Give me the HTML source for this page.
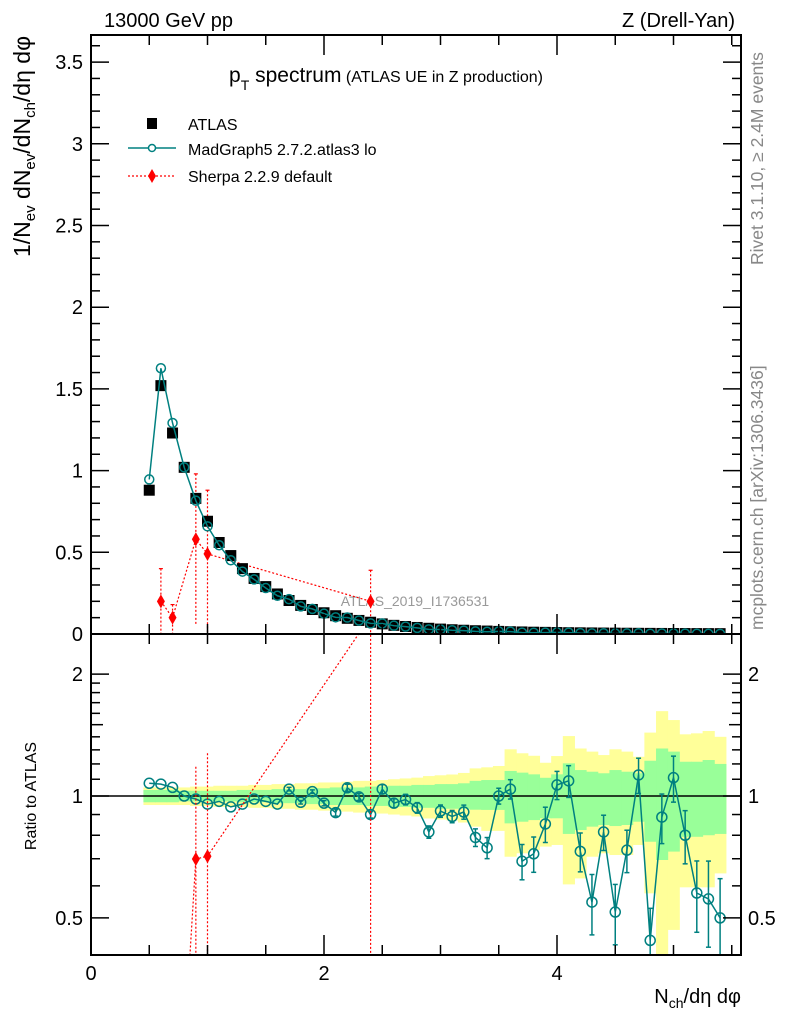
<!DOCTYPE html>
<html><head><meta charset="utf-8"><style>
html,body{margin:0;padding:0;background:#fff;width:786px;height:1024px;overflow:hidden;position:relative;}
svg{display:block;font-family:"Liberation Sans",sans-serif;}
</style></head><body>
<svg id="c" width="786" height="1024" viewBox="0 0 786 1024" xmlns="http://www.w3.org/2000/svg" style="position:absolute;left:0;top:0"></svg>
<script>
// ---- data ----
const xCenters = [0.5,0.6,0.7,0.8,0.9,1.0,1.1,1.2,1.3,1.4,1.5,1.6,1.7,1.8,1.9,2.0,2.1,2.2,2.3,2.4,2.5,2.6,2.7,2.8,2.9,3.0,3.1,3.2,3.3,3.4,3.5,3.6,3.7,3.8,3.9,4.0,4.1,4.2,4.3,4.4,4.5,4.6,4.7,4.8,4.9,5.0,5.1,5.2,5.3,5.4];
const atlasVals = [0.88,1.52,1.23,1.02,0.83,0.69,0.56,0.48,0.40,0.34,0.29,0.245,0.205,0.175,0.15,0.13,0.112,0.096,0.083,0.072,0.062,0.053,0.046,0.040,0.035,0.030,0.026,0.023,0.020,0.018,0.016,0.014,0.0125,0.011,0.010,0.009,0.008,0.0072,0.0065,0.0058,0.0052,0.0047,0.0042,0.0038,0.0034,0.0031,0.0028,0.0025,0.0023,0.0021];
const mgRatio = [1.075,1.07,1.05,1.0,0.983,0.955,0.97,0.94,0.955,0.983,0.97,0.955,1.04,0.965,1.025,0.96,0.91,1.048,0.995,0.90,1.04,0.96,0.98,0.935,0.815,0.918,0.89,0.913,0.79,0.745,1.0,1.04,0.69,0.72,0.853,1.065,1.09,0.73,0.547,0.815,0.517,0.735,1.127,0.44,0.887,1.11,0.8,0.576,0.557,0.50];
const mgRatioErr = [0,0,0,0,0,0,0,0,0,0,0,0,0.01,0.01,0.01,0.015,0.02,0.02,0.02,0.02,0.025,0.025,0.03,0.03,0.035,0.035,0.035,0.04,0.05,0.06,0.045,0.055,0.1,0.1,0.1,0.08,0.09,0.11,0.17,0.1,0.17,0.12,0.1,0.2,0.14,0.13,0.15,0.2,0.24,0.25];
const yellowHi = [1.05,1.05,1.05,1.05,1.055,1.055,1.06,1.06,1.06,1.065,1.065,1.07,1.07,1.075,1.075,1.08,1.08,1.085,1.09,1.09,1.095,1.1,1.105,1.11,1.12,1.125,1.13,1.14,1.17,1.177,1.186,1.304,1.275,1.257,1.208,1.255,1.406,1.31,1.287,1.262,1.304,1.287,1.25,1.434,1.62,1.54,1.42,1.428,1.447,1.40];
const greenHi = [1.035,1.035,1.035,1.03,1.03,1.03,1.03,1.03,1.035,1.035,1.035,1.04,1.04,1.04,1.045,1.045,1.05,1.05,1.05,1.055,1.055,1.06,1.06,1.065,1.065,1.07,1.07,1.075,1.09,1.095,1.095,1.153,1.142,1.131,1.109,1.131,1.204,1.159,1.148,1.138,1.159,1.148,1.138,1.222,1.31,1.287,1.215,1.215,1.227,1.2];
const greenLo = [0.965,0.965,0.965,0.97,0.97,0.97,0.97,0.97,0.965,0.965,0.965,0.96,0.96,0.96,0.955,0.955,0.95,0.95,0.95,0.945,0.945,0.94,0.94,0.935,0.935,0.93,0.93,0.93,0.925,0.924,0.924,0.856,0.864,0.872,0.881,0.881,0.806,0.824,0.84,0.848,0.843,0.848,0.864,0.771,0.695,0.729,0.793,0.793,0.80,0.806];
const yellowLo = [0.95,0.95,0.95,0.95,0.945,0.945,0.94,0.94,0.94,0.935,0.935,0.93,0.93,0.925,0.925,0.92,0.92,0.915,0.91,0.91,0.905,0.9,0.895,0.89,0.88,0.875,0.87,0.86,0.84,0.82,0.82,0.708,0.722,0.736,0.75,0.757,0.605,0.626,0.708,0.722,0.715,0.715,0.757,0.575,0.38,0.467,0.595,0.595,0.595,0.644];
const sherpaX = [0.6,0.7,0.9,1.0,2.4];
const sherpaVals = [0.2,0.1,0.58,0.49,0.2];
const sherpaUp = [0.4,0.18,0.98,0.88,0.39];
const sherpaDn = [0.0,0.0,0.06,0.0,0.0];
const mainYTicks = [0,0.5,1,1.5,2,2.5,3,3.5];
const mainYLabels = ["0","0.5","1","1.5","2","2.5","3","3.5"];
const xTickLabels = [0,2,4];
const ratioLabels = [0.5,1,2];

// ---- geometry ----
const NS="http://www.w3.org/2000/svg";
const svg=document.getElementById('c');
const L=91,R=741,T=35,MB=634,RB=955,XOFF=0.0;
const sx=v=>L+v*116.5;
const px=v=>sx(v+XOFF);
const sy=v=>MB-v*163.4;
const ry=v=>796-Math.log10(v)*405;
function el(tag,attrs,parent){const e=document.createElementNS(NS,tag);for(const k in attrs)e.setAttribute(k,attrs[k]);(parent||svg).appendChild(e);return e;}
function txt(s,attrs,parent){const e=el('text',attrs,parent);e.textContent=s;return e;}

const defs=el('defs',{});
const c1=el('clipPath',{id:'cm'},defs);el('rect',{x:L,y:T,width:R-L,height:MB-T},c1);
const c2=el('clipPath',{id:'cr'},defs);el('rect',{x:L,y:MB,width:R-L,height:RB-MB},c2);

// ---- ratio bands ----
const gR=el('g',{'clip-path':'url(#cr)'});


xCenters.forEach((x,i)=>{
  const y=el('rect',{x:px(x-0.05),width:116.5*0.1+0.5,y:ry(yellowHi[i]),height:ry(yellowLo[i])-ry(yellowHi[i]),fill:'#ffff99'},gR);
  
  
});
xCenters.forEach((x,i)=>{
  const g=el('rect',{x:px(x-0.05),width:116.5*0.1+0.5,y:ry(greenHi[i]),height:ry(greenLo[i])-ry(greenHi[i]),fill:'#99ff99'},gR);
  
  
});
el('line',{x1:L,x2:R,y1:ry(1),y2:ry(1),stroke:'#000','stroke-width':1.5},gR);

let pts=xCenters.map((x,i)=>px(x)+','+ry(mgRatio[i])).join(' ');
const mgrl=el('polyline',{points:pts,fill:'none',stroke:'#008080','stroke-width':1.5},gR);


xCenters.forEach((x,i)=>{
  const e=mgRatioErr[i];
  if(e>0){const X=px(x),y1=ry(mgRatio[i]*(1+e)),y2=ry(mgRatio[i]*(1-e));
    el('line',{x1:X,x2:X,y1:y1,y2:y2,stroke:'#008080','stroke-width':1.5},gR);
    el('line',{x1:X-2.5,x2:X+2.5,y1:y1,y2:y1,stroke:'#008080','stroke-width':1.5},gR);
    el('line',{x1:X-2.5,x2:X+2.5,y1:y2,y2:y2,stroke:'#008080','stroke-width':1.5},gR);}
  const c=el('circle',{cx:px(x),cy:ry(mgRatio[i]),r:5,fill:'none',stroke:'#008080','stroke-width':1.5},gR);
  
  
});
const atlasAt=x=>atlasVals[xCenters.findIndex(v=>Math.abs(v-x)<1e-6)];
pts=sherpaX.map((x,i)=>px(x)+','+ry(Math.max(sherpaVals[i]/atlasAt(x),0.01))).join(' ');
const shrl=el('polyline',{points:pts,fill:'none',stroke:'#ff0000','stroke-width':1.2,'stroke-dasharray':'2,2'},gR);


sherpaX.forEach((x,i)=>{
  const a=atlasAt(x),X=px(x);
  el('line',{x1:X,x2:X,y1:ry(sherpaUp[i]/a),y2:ry(Math.max(sherpaDn[i]/a,0.01)),stroke:'#ff0000','stroke-width':1.2,'stroke-dasharray':'2,2'},gR);
  const Y=ry(sherpaVals[i]/a);
  const d=el('polygon',{points:`${X},${Y-7} ${X+4},${Y} ${X},${Y+7} ${X-4},${Y}`,fill:'#ff0000'},gR);
  
  
});

// ---- main plot ----
const gM=el('g',{'clip-path':'url(#cm)'});


txt('ATLAS_2019_I1736531',{x:415,y:606,'font-size':14,fill:'#999','text-anchor':'middle'},gM);
pts=sherpaX.map((x,i)=>px(x)+','+sy(sherpaVals[i])).join(' ');
const shl=el('polyline',{points:pts,fill:'none',stroke:'#ff0000','stroke-width':1.2,'stroke-dasharray':'2,2'},gM);


sherpaX.forEach((x,i)=>{
  const X=px(x);
  el('line',{x1:X,x2:X,y1:sy(sherpaUp[i]),y2:sy(sherpaDn[i]),stroke:'#ff0000','stroke-width':1.2,'stroke-dasharray':'2,2'},gM);
  el('line',{x1:X-2,x2:X+2,y1:sy(sherpaUp[i]),y2:sy(sherpaUp[i]),stroke:'#ff0000','stroke-width':1.2},gM);
  const Y=sy(sherpaVals[i]);
  const d=el('polygon',{points:`${X},${Y-7} ${X+4},${Y} ${X},${Y+7} ${X-4},${Y}`,fill:'#ff0000'},gM);
  
  
});
xCenters.forEach((x,i)=>{
  const r=el('rect',{x:px(x)-5.5,y:sy(atlasVals[i])-5.5,width:11,height:11,fill:'#000'},gM);
  
  
});
pts=xCenters.map((x,i)=>px(x)+','+sy(atlasVals[i]*mgRatio[i])).join(' ');
const mgl=el('polyline',{points:pts,fill:'none',stroke:'#008080','stroke-width':1.5},gM);


xCenters.forEach((x,i)=>{
  const c=el('circle',{cx:px(x),cy:sy(atlasVals[i]*mgRatio[i]),r:4.5,fill:'none',stroke:'#008080','stroke-width':1.5},gM);
  
  
});

// ---- frames & ticks ----
el('rect',{x:L,y:T,width:R-L,height:MB-T,fill:'none',stroke:'#000','stroke-width':2});
el('rect',{x:L,y:MB,width:R-L,height:RB-MB,fill:'none',stroke:'#000','stroke-width':2});
const tk={stroke:'#000','stroke-width':1.5};
for(let v=0;v<=3.65;v+=0.1){const y=sy(v);const maj=Math.abs(v*2-Math.round(v*2))<1e-6;const l=maj?18:9;
  el('line',{x1:L,x2:L+l,y1:y,y2:y,...tk});el('line',{x1:R-l,x2:R,y1:y,y2:y,...tk});}
mainYTicks.forEach((v,i)=>{const t=txt(mainYLabels[i],{x:L-8,y:sy(v)+7,'font-size':20,'text-anchor':'end'});
  });
for(let v=0.5;v<=5.5;v+=0.5){const X=sx(v);const maj=Math.abs(v-Math.round(v/2)*2)<1e-6;const l=maj?20:10;
  el('line',{x1:X,x2:X,y1:MB,y2:MB-l,...tk});el('line',{x1:X,x2:X,y1:T,y2:T+l,...tk});
  el('line',{x1:X,x2:X,y1:RB,y2:RB-l,...tk});el('line',{x1:X,x2:X,y1:MB,y2:MB+l,...tk});}
xTickLabels.forEach(v=>{const t=txt(String(v),{x:sx(v),y:980,'font-size':20,'text-anchor':'middle'});
  });
const rt=[0.5,0.6,0.7,0.8,0.9,1,1.1,1.2,1.3,1.4,1.5,1.6,1.7,1.8,1.9,2];
rt.forEach(v=>{const y=ry(v);const l=(v===0.5||v===1||v===2)?18:(v===1.5?12:9);
  el('line',{x1:L,x2:L+l,y1:y,y2:y,...tk});el('line',{x1:R-l,x2:R,y1:y,y2:y,...tk});});
ratioLabels.forEach(v=>{
  const a=txt(String(v),{x:L-8,y:ry(v)+7,'font-size':20,'text-anchor':'end'});
  
  const b=txt(String(v),{x:R+7,y:ry(v)+7,'font-size':20});
  });
</script>
<svg width="786" height="1024" style="position:absolute;left:0;top:0;font-family:'Liberation Sans',sans-serif">
<text x="104" y="27" font-size="20">13000 GeV pp</text>
<text x="735" y="27" font-size="20" text-anchor="end">Z (Drell-Yan)</text>
<text x="229" y="82" font-size="21">p<tspan font-size="14" dy="8">T</tspan><tspan dy="-8"> spectrum</tspan><tspan font-size="16"> (ATLAS UE in Z production)</tspan></text>
<g>
<rect x="147" y="118" width="10" height="11" fill="#000"/>
<text x="188" y="130" font-size="16">ATLAS</text>
<line x1="128" x2="176" y1="148" y2="148" stroke="#008080" stroke-width="1.5"/>
<circle cx="152" cy="148" r="3.5" fill="#fff" stroke="#008080" stroke-width="1.5"/>
<text x="188" y="155" font-size="16">MadGraph5 2.7.2.atlas3 lo</text>
<line x1="128" x2="176" y1="176" y2="176" stroke="#f00" stroke-width="1.2" stroke-dasharray="2,2"/>
<polygon points="152,169 156,176 152,183 148,176" fill="#f00"/>
<text x="188" y="182" font-size="16">Sherpa 2.2.9 default</text>
</g>
<text transform="translate(30,36) rotate(-90)" font-size="23" text-anchor="end">1/N<tspan font-size="15" dy="5">ev</tspan><tspan dy="-5"> dN</tspan><tspan font-size="15" dy="5">ev</tspan><tspan dy="-5">/dN</tspan><tspan font-size="15" dy="5">ch</tspan><tspan dy="-5">/dη dφ</tspan></text>
<text transform="translate(36,796) rotate(-90)" font-size="16" text-anchor="middle">Ratio to ATLAS</text>
<text x="741" y="1003" font-size="20" text-anchor="end">N<tspan font-size="14" dy="5">ch</tspan><tspan dy="-5">/dη dφ</tspan></text>
<text transform="translate(763,265) rotate(-90)" font-size="17.5" fill="#888">Rivet 3.1.10, ≥ 2.4M events</text>
<text transform="translate(763,630) rotate(-90)" font-size="17.5" fill="#888">mcplots.cern.ch [arXiv:1306.3436]</text>
</svg>
</body></html>
